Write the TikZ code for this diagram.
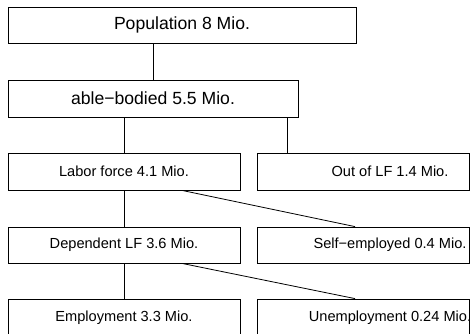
\documentclass[tikz,border=0pt]{standalone}
\usepackage{fontspec}
\setmainfont{Liberation Sans}
\usetikzlibrary{calc}   %allows coordinate calculations.

\begin{document}
\begin{tikzpicture}[x=1pt,y=-1pt,line width=0.8pt]

% Define box styles
\tikzset{
  box/.style={draw, rectangle, inner sep=0pt, minimum height=37},
  bigtxt/.style={font=\fontsize{17.6}{20}\selectfont},
  smalltxt/.style={font=\fontsize{14.6}{17}\selectfont},
  lbox/.style={box, smalltxt, minimum width=232},
  rbox/.style={box, minimum width=212, label={[smalltxt,xshift=27]center:#1}},
}

\useasboundingbox (0,0) rectangle (472,333);
\clip (0,0) rectangle (472,333);

% Top of the tree
\node[box,bigtxt,minimum width=348,minimum height=36] (pop) at (182,25) {Population 8 Mio.};
\node[box,bigtxt,minimum width=290] (able) at (153,98.5) {able−bodied 5.5 Mio.};

% Labor force
\node[lbox] (lf) at (124,171.5) {Labor force 4.1 Mio.};
\node[rbox={Out of LF 1.4 Mio.}] (olf) at (363,171.5) {};

% Dependent LF
\node[lbox,minimum height=36] (dep) at (124,245) {Dependent LF 3.6 Mio.};
\node[rbox={Self−employed 0.4 Mio.},minimum height=36] (self) at (363,245) {};

% Employment
\node[lbox] (emp) at (124,317.5) {Employment 3.3 Mio.};
\node[rbox={Unemployment 0.24 Mio.}] (unemp) at (363,317.5) {};

% Connectors
\coordinate (ableR) at ($(able.south east)+(-11,0)$);
\coordinate (lfR) at ($(lf.south)+(58,0)$);
\coordinate (depR) at ($(dep.south)+(58,0)$);

\draw (able.north |- pop.south) -- (able.north);
\draw (lf.north |- able.south) -- (lf.north);
\draw (ableR) -- (ableR |- olf.north);
\draw (lf.south) -- (dep.north);
\draw (lfR) -- ($(self.north)+(-8,0)$);
\draw (dep.south) -- (emp.north);
\draw (depR) -- ($(unemp.north)+(-8,0)$);

\end{tikzpicture}
\end{document}
